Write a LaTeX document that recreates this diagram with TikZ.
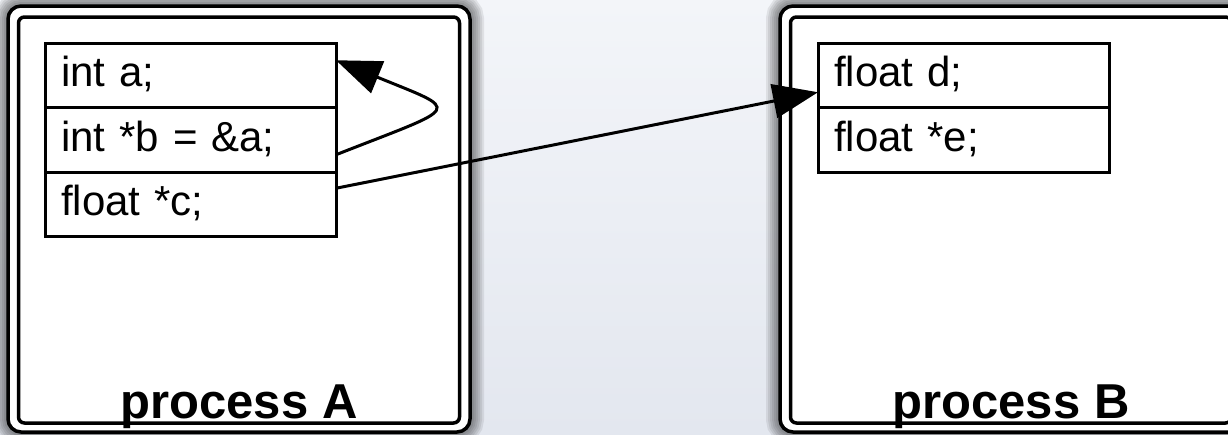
\documentclass[tikz,border=0pt]{standalone}
\usepackage{fontspec}
\setmainfont{Liberation Sans}
\usepackage{tikz}
\usetikzlibrary{arrows.meta,positioning,backgrounds}
\definecolor{memsky}{HTML}{F3F5F9}
\definecolor{memfloor}{HTML}{E3E7EF}

\begin{document}
\begin{tikzpicture}[x=1pt, y=-1pt, font=\fontsize{42}{50}\selectfont, >={Triangle[length=45pt, width=34pt]}]
  \tikzset{outerbox/.style={draw, line width=3.5pt, fill=white, rounded corners=13pt, minimum width=462pt, minimum height=426pt, inner sep=0, outer sep=0},
           innerbox/.style={draw, line width=3.5pt, rounded corners=6pt, minimum width=441pt, minimum height=406pt, inner sep=0, outer sep=0},
           cell/.style={draw, line width=3pt, outer sep=0, text width=259pt, inner xsep=16pt, inner ysep=0, minimum height=64.5pt, text height=31pt, text depth=8pt, align=left},
           procl/.style={anchor=base, font=\bfseries\fontsize{49}{58}\selectfont},
           ptr/.style={->, line width=3pt}}
  \useasboundingbox (0,0) rectangle (1228,434);
  % process frames
  \node[outerbox] (procA) at (239,219) {};
  \node[innerbox] (procAin) at ([yshift=-1pt]procA.center) {};
  \node[outerbox] (procB) at (1011,219) {};
  \node[innerbox] (procBin) at ([yshift=-1pt]procB.center) {};
  \node[procl] (labA) at (239,418) {process A};
  \node[procl] (labB) at (1011,418) {process B};
  % variables of A
  \node[cell, anchor=north west] (a) at (45,43) {int a;};
  \node[cell, below=0pt of a] (b) {int *b = \&a;};
  \node[cell, below=0pt of b] (c) {float *c;};
  % variables of B
  \node[cell, anchor=north west] (d) at (818,43) {float d;};
  \node[cell, below=0pt of d] (e) {float *e;};
  % pointers
  \draw[ptr] ([yshift=-15pt]b.east) .. controls +(127,-50) and +(127,52) .. ([yshift=15pt]a.east);
  \draw[ptr] ([yshift=16pt]c.east) -- ([yshift=-17pt]d.west);
  % backdrop and shadows
  \begin{scope}[on background layer]
    \shade[top color=memsky, bottom color=memfloor] (0,0) rectangle (1228,434);
    \foreach \w in {4,8,...,28} {
      \draw[line width=\w pt, opacity=0.08, rounded corners=13pt] (procA.north west) rectangle (procA.south east);
      \draw[line width=\w pt, opacity=0.08, rounded corners=13pt] (procB.north west) rectangle (procB.south east);
    }
  \end{scope}
\end{tikzpicture}
\end{document}
